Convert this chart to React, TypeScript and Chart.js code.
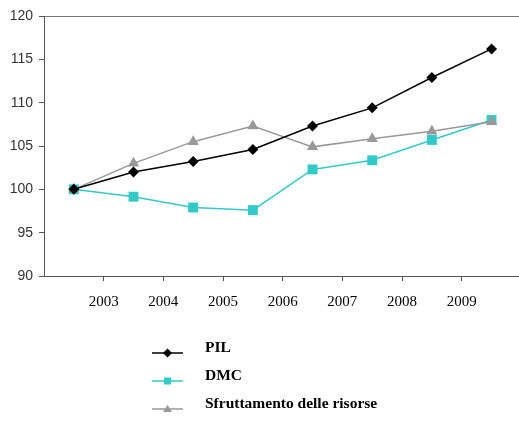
import React, { useEffect, useRef } from "react";
import { Chart, registerables } from "chart.js";

Chart.register(...registerables);

const years = ["2003", "2004", "2005", "2006", "2007", "2008", "2009"];
const pointPositions = [0, 1, 2, 3, 4, 5, 6, 7];
const pilValues = [100, 102, 103.2, 104.6, 107.3, 109.4, 112.9, 116.2];
const dmcValues = [100, 99.15, 97.9, 97.6, 102.3, 103.35, 105.7, 108.0];
const sfrValues = [100, 103.0, 105.5, 107.3, 104.9, 105.85, 106.7, 107.8];
const yTicks = [90, 95, 100, 105, 110, 115, 120];

const seriesNames = ["PIL", "DMC", "Sfruttamento delle risorse"];
const seriesColors = ["#000000", "#33c9c9", "#999999"];

const W = 519;
const H = 422;

function drawMarker(ctx: CanvasRenderingContext2D, style: string, x: number, y: number, r: number, color: string) {
  ctx.save();
  ctx.fillStyle = color;
  ctx.beginPath();
  if (style === "rectRot") {
    ctx.moveTo(x - r, y);
    ctx.lineTo(x, y - r);
    ctx.lineTo(x + r, y);
    ctx.lineTo(x, y + r);
  } else if (style === "rect") {
    ctx.rect(x - r, y - r, 2 * r, 2 * r);
  } else {
    const h = r * 1.6;
    ctx.moveTo(x, y - h * 0.6);
    ctx.lineTo(x + r, y + h * 0.4);
    ctx.lineTo(x - r, y + h * 0.4);
  }
  ctx.closePath();
  ctx.fill();
  ctx.restore();
}

const legendPlugin = {
  id: "customLegend",
  afterDraw(chart: any) {
    const ctx = chart.ctx as CanvasRenderingContext2D;
    const styles = ["rectRot", "rect", "triangle"];
    const sizes = [4.5, 3.5, 4.5];
    chart.data.datasets.forEach((ds: any, i: number) => {
      const y = 353 + i * 28;
      ctx.save();
      ctx.strokeStyle = ds.borderColor;
      ctx.lineWidth = 1.5;
      ctx.beginPath();
      ctx.moveTo(152, y);
      ctx.lineTo(183, y);
      ctx.stroke();
      drawMarker(ctx, styles[i], 167.5, y, sizes[i], ds.borderColor);
      ctx.fillStyle = "#000";
      ctx.font = "bold 15.5px 'Liberation Serif'";
      ctx.textBaseline = "middle";
      ctx.textAlign = "left";
      ctx.fillText(ds.label, 205, y - 5);
      ctx.restore();
    });
  },
};

export default function App() {
  const ref = useRef<HTMLCanvasElement | null>(null);

  useEffect(() => {
    if (!ref.current) return;
    const mk = (vals: number[]) => pointPositions.map((x, i) => ({ x, y: vals[i] }));
    const chart = new Chart(ref.current, {
      type: "line",
      data: {
        datasets: [
          {
            label: seriesNames[0],
            data: mk(pilValues),
            borderColor: seriesColors[0],
            backgroundColor: seriesColors[0],
            borderWidth: 1.5,
            pointStyle: "rectRot",
            pointRadius: 5.5,
            pointBorderWidth: 0,
            order: 0,
          },
          {
            label: seriesNames[1],
            data: mk(dmcValues),
            borderColor: seriesColors[1],
            backgroundColor: seriesColors[1],
            borderWidth: 1.5,
            pointStyle: "rect",
            pointRadius: 7,
            pointBorderWidth: 0,
            order: 2,
          },
          {
            label: seriesNames[2],
            data: mk(sfrValues),
            borderColor: seriesColors[2],
            backgroundColor: seriesColors[2],
            borderWidth: 1.5,
            pointStyle: "triangle",
            pointRadius: 6.5,
            pointBorderWidth: 0,
            order: 1,
          },
        ],
      },
      options: {
        responsive: false,
        animation: false,
        layout: { autoPadding: false, padding: { top: 16, left: 0, right: 0, bottom: 0 } },
        plugins: {
          legend: { display: false },
          tooltip: { enabled: false },
        },
        scales: {
          x: {
            type: "linear",
            min: -0.5,
            max: 7.46,
            afterBuildTicks: (axis: any) => {
              axis.ticks = years.map((_, i) => ({ value: i + 0.5 }));
            },
            afterFit: (scale: any) => {
              scale.height = H - 276;
              scale.paddingLeft = 0;
              scale.paddingRight = 0;
            },
            grid: {
              drawOnChartArea: false,
              tickLength: 5,
              tickColor: "#555",
            },
            border: { display: true, color: "#555", width: 1 },
            ticks: {
              autoSkip: false,
              maxRotation: 0,
              padding: 12,
              color: "#000",
              font: { family: "'Liberation Serif'", size: 15 },
              callback: (v: any) => years[Math.round(Number(v) - 0.5)] ?? "",
            },
          },
          y: {
            min: 90,
            max: 120,
            afterBuildTicks: (axis: any) => {
              axis.ticks = yTicks.map((v) => ({ value: v }));
            },
            afterFit: (scale: any) => {
              scale.width = 44;
              scale.paddingTop = 0;
              scale.paddingBottom = 0;
            },
            grid: {
              drawOnChartArea: true,
              color: (c: any) => (c.tick && c.tick.value === 120 ? "#777" : "rgba(0,0,0,0)"),
              tickColor: "#555",
              tickLength: 5,
            },
            border: { display: true, color: "#555", width: 1 },
            ticks: {
              padding: 6,
              color: "#333",
              font: { family: "'Liberation Sans'", size: 14 },
            },
          },
        },
      },
      plugins: [legendPlugin],
    } as any);
    return () => chart.destroy();
  }, []);

  return (
    <div style={{ position: "absolute", left: 0, top: 0, width: W, height: H, background: "#fff" }}>
      <canvas ref={ref} width={W} height={H} style={{ display: "block" }} />
    </div>
  );
}
